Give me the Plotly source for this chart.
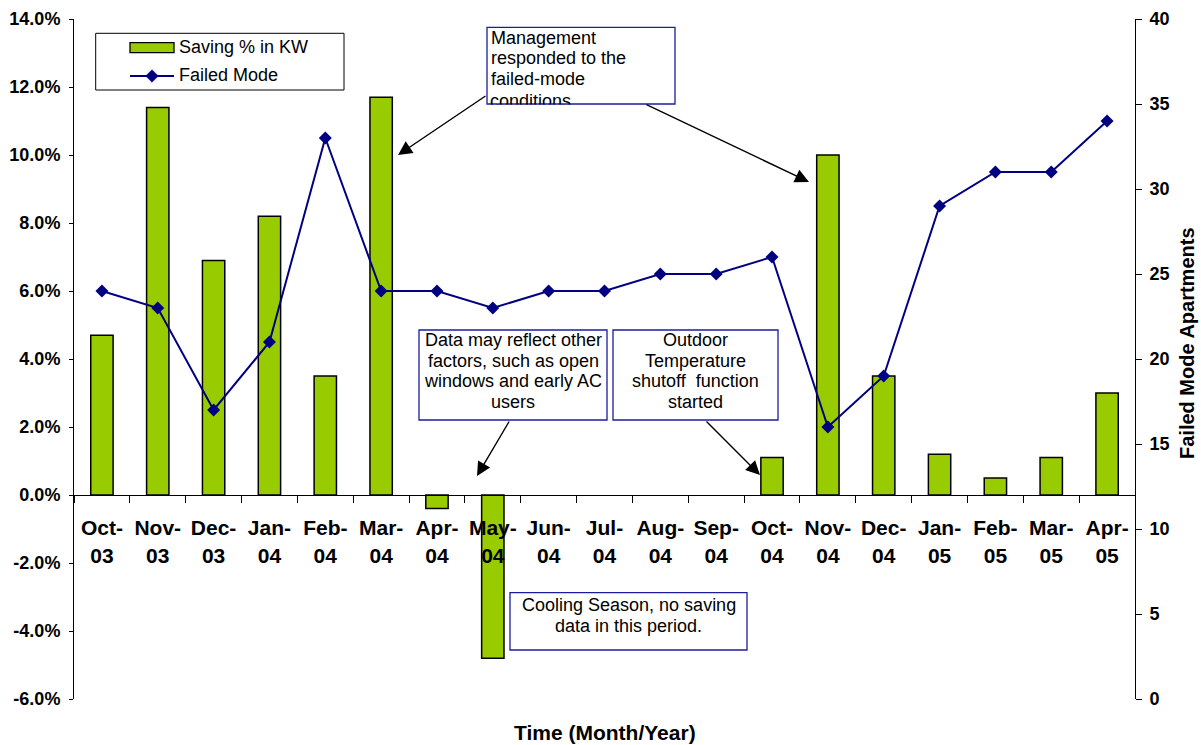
import plotly.graph_objects as go

# ---- data ----
months = ["Oct-03", "Nov-03", "Dec-03", "Jan-04", "Feb-04", "Mar-04", "Apr-04",
          "May-04", "Jun-04", "Jul-04", "Aug-04", "Sep-04", "Oct-04", "Nov-04",
          "Dec-04", "Jan-05", "Feb-05", "Mar-05", "Apr-05"]
saving_pct = [4.7, 11.4, 6.9, 8.2, 3.5, 11.7, -0.4, -4.8, None, None, None, None,
              1.1, 10.0, 3.5, 1.2, 0.5, 1.1, 3.0]
failed_mode = [24, 23, 17, 21, 33, 24, 24, 23, 24, 24, 25, 25, 26, 16, 19, 29, 31, 31, 34]

saving_ticks = [-6, -4, -2, 0, 2, 4, 6, 8, 10, 12, 14]
saving_ticktext = [f"{v:.1f}%" for v in saving_ticks]
failed_ticks = [0, 5, 10, 15, 20, 25, 30, 35, 40]

bar_name = "Saving % in KW"
line_name = "Failed Mode"
x_title = "Time (Month/Year)"
y2_title = "Failed Mode Apartments"

# ---- styling ----
FONT = "Liberation Sans, Arial, sans-serif"
GREEN = "#99CC00"
NAVY = "#000080"
BOX = "#1C1C9C"

W, H = 1201, 745
PL, PR, PT, PB = 74, 1135, 19, 699  # plot-area edges in pixels


def px(x):
    return (x - PL) / (PR - PL)


def py(y):
    return (PB - y) / (PB - PT)


x_labels = [m.replace("-", "-<br>") for m in months]

fig = go.Figure()
fig.add_trace(go.Bar(
    x=x_labels, y=saving_pct, name=bar_name, width=0.4,
    marker=dict(color=GREEN, line=dict(color="black", width=1.5)),
    showlegend=False, yaxis="y",
))
fig.add_trace(go.Scatter(
    x=x_labels, y=failed_mode, name=line_name, mode="lines+markers",
    line=dict(color=NAVY, width=2),
    marker=dict(symbol="diamond", size=10, color=NAVY),
    showlegend=False, yaxis="y2",
))

tickfont = dict(family=FONT, size=18, color="black", weight="bold")
common = dict(automargin=False, showgrid=False, zeroline=False)
y_range = [saving_ticks[0], saving_ticks[-1]]
y2_range = [failed_ticks[0], failed_ticks[-1]]

fig.update_layout(
    width=W, height=H,
    margin=dict(l=PL, r=W - PR, t=PT, b=H - PB, autoexpand=False),
    paper_bgcolor="white", plot_bgcolor="white",
    showlegend=False,
    xaxis=dict(
        type="category", anchor="free", position=0.3,
        showline=True, linecolor="black", linewidth=1,
        ticks="outside", ticklen=7, tickwidth=1, tickcolor="black",
        tickson="boundaries", tickangle=0,
        tickfont=dict(family=FONT, size=21, color="black", weight="bold"),
        ticklabelstandoff=14,
        range=[-0.5, len(months) - 0.5], **common,
    ),
    xaxis2=dict(
        overlaying="x", anchor="free", position=0.3, type="linear",
        range=[-0.5, len(months) - 0.5],
        tickvals=[i + 0.5 for i in range(len(months) - 1)],
        ticks="inside", ticklen=6, tickwidth=1, tickcolor="black",
        showticklabels=False, showline=False, **common,
    ),
    yaxis=dict(
        range=y_range, tickvals=saving_ticks, ticktext=saving_ticktext,
        showline=True, linecolor="black", linewidth=1,
        ticks="outside", ticklen=4, tickwidth=1, tickcolor="black",
        tickfont=tickfont, ticklabelstandoff=5, **common,
    ),
    yaxis3=dict(
        overlaying="y", side="left", range=y_range, tickvals=saving_ticks,
        ticks="inside", ticklen=7, tickwidth=1, tickcolor="black",
        showticklabels=False, showline=False, **common,
    ),
    yaxis2=dict(
        overlaying="y", side="right", range=y2_range, tickvals=failed_ticks,
        showline=True, linecolor="black", linewidth=1,
        ticks="outside", ticklen=6, tickwidth=1, tickcolor="black",
        tickfont=tickfont, ticklabelstandoff=4, **common,
    ),
    yaxis4=dict(
        overlaying="y", side="right", range=y2_range, tickvals=failed_ticks,
        ticks="inside", ticklen=4, tickwidth=1, tickcolor="black",
        showticklabels=False, showline=False, **common,
    ),
)

shapes = []
annotations = []

# ---- legend ----
shapes.append(dict(type="rect", xref="paper", yref="paper",
                   x0=px(95.7), x1=px(344), y0=py(33.3), y1=py(90),
                   line=dict(color="black", width=1), fillcolor="white"))
shapes.append(dict(type="rect", xref="paper", yref="paper",
                   x0=px(130), x1=px(174), y0=py(42.7), y1=py(52.7),
                   line=dict(color="black", width=1.3), fillcolor=GREEN))
shapes.append(dict(type="line", xref="paper", yref="paper",
                   x0=px(130), x1=px(174), y0=py(76), y1=py(76),
                   line=dict(color=NAVY, width=2)))
cx, cy, hw = 152, 76, 6.3
shapes.append(dict(
    type="path", xref="paper", yref="paper",
    path=(f"M{px(cx - hw)},{py(cy)} L{px(cx)},{py(cy - hw)} "
          f"L{px(cx + hw)},{py(cy)} L{px(cx)},{py(cy + hw)} Z"),
    fillcolor=NAVY, line=dict(color=NAVY, width=0.5)))

LEFT_PAD = 3  # annotation inner padding for left-anchored text


def text_line(txt, x, baseline, anchor="left", size=18, bold=False):
    if anchor == "left":
        x -= LEFT_PAD
    annotations.append(dict(
        text=f"<b>{txt}</b>" if bold else txt,
        x=px(x), y=py(baseline - 0.35 * size), xref="paper", yref="paper",
        xanchor=anchor, yanchor="middle", showarrow=False,
        font=dict(family=FONT, size=size, color="black"),
    ))


text_line(bar_name, 180, 53.3)
text_line(line_name, 180, 81.7)


# ---- callout boxes ----
def box(x0, x1, y0, y1):
    shapes.append(dict(type="rect", xref="paper", yref="paper",
                       x0=px(x0), x1=px(x1), y0=py(y0), y1=py(y1),
                       line=dict(color=BOX, width=1.3), fillcolor="white",
                       layer="above"))


box(487, 675, 27.3, 104)
for t, b in zip(["Management", "responded to the", "failed-mode"], [44, 64.5, 85]):
    text_line(t, 491.5, b)
# last line runs past the bottom edge of its box and is cut off there
annotations.append(dict(
    text="conditions", x=px(491.5 - LEFT_PAD), y=py(90), xref="paper", yref="paper",
    xanchor="left", yanchor="top", valign="top", showarrow=False,
    height=13.5, borderpad=0,
    font=dict(family=FONT, size=18, color="black"),
))

box(419, 607, 330, 420)
for t, b in zip(["Data may reflect other", "factors, such as open",
                 "windows and early AC", "users"], [346.5, 367, 387.5, 408]):
    text_line(t, 513, b, anchor="center")

box(613, 778, 330, 420)
for t, b in zip(["Outdoor", "Temperature", "shutoff  function", "started"],
                [346.5, 367, 387.5, 408]):
    text_line(t, 695.5, b, anchor="center")

box(510, 747, 592.7, 650)
for t, b in zip(["Cooling Season, no saving", "data in this period."], [611.7, 632.3]):
    text_line(t, 628.5, b, anchor="center")


# ---- arrows ----
def arrow(tail, tip):
    annotations.append(dict(
        text="", x=px(tip[0]), y=py(tip[1]), xref="paper", yref="paper",
        ax=tail[0] - tip[0], ay=tail[1] - tip[1], axref="pixel", ayref="pixel",
        showarrow=True, arrowhead=2, arrowsize=2, arrowwidth=1.4,
        arrowcolor="black", standoff=0, startstandoff=0,
    ))


arrow((487, 95), (398, 155))
arrow((645, 104), (809, 182))
arrow((510, 420), (477, 476))
arrow((705, 420), (760, 475))

# ---- axis titles ----
text_line(x_title, 604.5, 740, anchor="center", size=21, bold=True)
annotations.append(dict(
    text=f"<b>{y2_title}</b>", x=px(1187), y=py(343), xref="paper", yref="paper",
    xanchor="center", yanchor="middle", textangle=-90, showarrow=False,
    font=dict(family=FONT, size=20, color="black"),
))

fig.update_layout(shapes=shapes, annotations=annotations)
fig.write_html("out.html")
